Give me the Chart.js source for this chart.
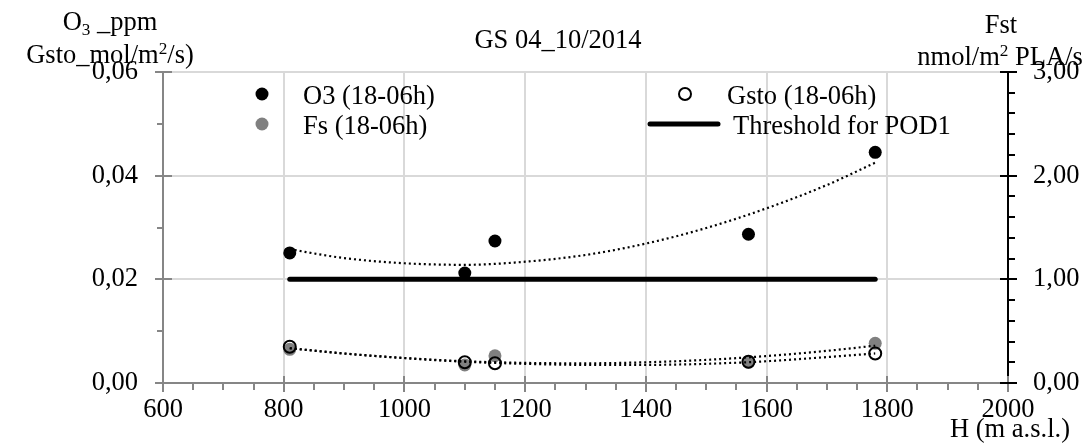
<!DOCTYPE html>
<html>
<head>
<meta charset="utf-8">
<script src="https://cdn.jsdelivr.net/npm/chart.js@4.4.1/dist/chart.umd.min.js"></script>
<style>
  html, body { margin: 0; padding: 0; background: #fff; }
  #wrap { width: 1090px; height: 445px; }
</style>
</head>
<body>
<div id="wrap"><canvas id="chart"></canvas></div>
<script>
// altitude of the stations (m a.s.l.)
const heights = [810, 1100, 1150, 1570, 1780];
// O3 ppm and Gsto on the left axis, Fst on the right axis
const o3 = [0.0251, 0.0212, 0.0274, 0.0287, 0.0445];
const gsto = [0.0070, 0.0040, 0.0038, 0.0041, 0.0057];
const fs = [0.325, 0.174, 0.263, 0.200, 0.383];

// threshold for POD1
const thresholdX = [810, 1780];
const thresholdY = [0.02, 0.02];

// trend lines
const trendX = [810, 900, 1000, 1100, 1200, 1300, 1400, 1500, 1600, 1700, 1780];
const o3Trend = [0.0258, 0.0241, 0.0231, 0.0228, 0.0234, 0.0247, 0.0269, 0.0299, 0.0337, 0.0382, 0.0425];
const gstoTrend = [0.0067, 0.0057, 0.0048, 0.0041, 0.0037, 0.0035, 0.0035, 0.0037, 0.0042, 0.0050, 0.0057];
const fsTrend = [0.335, 0.284, 0.241, 0.210, 0.194, 0.190, 0.200, 0.223, 0.260, 0.310, 0.360];

const xTicks = [600, 800, 1000, 1200, 1400, 1600, 1800, 2000];
const yTicks = [0, 0.02, 0.04, 0.06];
const y1Ticks = [0, 1, 2, 3];

const FONT = "'Liberation Serif', 'Times New Roman', serif";
const FS = 26.5;

const pts = (xs, ys) => xs.map((x, i) => ({ x: x, y: ys[i] }));
const comma = v => v.toFixed(2).replace('.', ',');

// text with sub / superscripts, centred on cx
function rich(ctx, parts, cx, base) {
    let w = 0;
    parts.forEach(p => {
        ctx.font = (p.s ? FS * 0.65 : FS) + 'px ' + FONT;
        p.w = ctx.measureText(p.t).width;
        w += p.w;
    });
    let x = cx - w / 2;
    parts.forEach(p => {
        ctx.font = (p.s ? FS * 0.65 : FS) + 'px ' + FONT;
        let dy = p.s === 'sub' ? FS * 0.2 : (p.s === 'sup' ? -FS * 0.35 : 0);
        ctx.fillText(p.t, x, base + dy);
        x += p.w;
    });
}

const decor = {
    id: 'decor',
    afterDraw(chart) {
        const ctx = chart.ctx;
        const sx = chart.scales.x, sy = chart.scales.y, sy1 = chart.scales.y1;
        ctx.save();

        // tick marks
        ctx.lineWidth = 2;
        ctx.strokeStyle = '#868686';
        for (let v = 600; v <= 2000; v += 50) {
            const px = Math.round(sx.getPixelForValue(v));
            ctx.beginPath();
            if (v % 200 === 0) { ctx.moveTo(px, 376); ctx.lineTo(px, 392); }
            else { ctx.moveTo(px, 383); ctx.lineTo(px, 390); }
            ctx.stroke();
        }
        for (let i = 0; i <= 6; i++) {
            const py = Math.round(sy.getPixelForValue(i * 0.01));
            ctx.beginPath();
            if (i % 2 === 0) { ctx.moveTo(155, py); ctx.lineTo(172, py); }
            else { ctx.moveTo(157, py); ctx.lineTo(163, py); }
            ctx.stroke();
        }
        ctx.strokeStyle = '#000';
        for (let i = 0; i <= 15; i++) {
            const py = Math.round(sy1.getPixelForValue(i * 0.2));
            ctx.beginPath();
            if (i % 5 === 0) { ctx.moveTo(1000, py); ctx.lineTo(1017, py); }
            else { ctx.moveTo(1008, py); ctx.lineTo(1015, py); }
            ctx.stroke();
        }

        // titles
        ctx.fillStyle = '#000';
        ctx.textBaseline = 'alphabetic';
        rich(ctx, [{ t: 'GS 04_10/2014' }], 558, 48);
        rich(ctx, [{ t: 'O' }, { t: '3', s: 'sub' }, { t: ' _ppm' }], 110, 30);
        rich(ctx, [{ t: 'Gsto_mol/m' }, { t: '2', s: 'sup' }, { t: '/s)' }], 110, 63);
        rich(ctx, [{ t: 'Fst' }], 1001, 33);
        rich(ctx, [{ t: 'nmol/m' }, { t: '2', s: 'sup' }, { t: ' PLA/s' }], 1000, 65);
        rich(ctx, [{ t: 'H (m a.s.l.)' }], 1010, 437);

        // legend
        ctx.font = FS + 'px ' + FONT;
        ctx.textAlign = 'left';
        ctx.fillStyle = '#000';
        ctx.beginPath(); ctx.arc(262, 94, 6.5, 0, Math.PI * 2); ctx.fill();
        ctx.fillText('O3 (18-06h)', 303, 104);
        ctx.fillStyle = '#808080';
        ctx.beginPath(); ctx.arc(262, 124, 6.5, 0, Math.PI * 2); ctx.fill();
        ctx.fillStyle = '#000';
        ctx.fillText('Fs (18-06h)', 303, 134);
        ctx.lineWidth = 2;
        ctx.beginPath(); ctx.arc(685, 94, 6, 0, Math.PI * 2); ctx.stroke();
        ctx.fillText('Gsto (18-06h)', 727, 104);
        ctx.lineWidth = 5;
        ctx.lineCap = 'round';
        ctx.beginPath(); ctx.moveTo(650, 124); ctx.lineTo(718, 124); ctx.stroke();
        ctx.fillText('Threshold for POD1', 733, 134);

        ctx.restore();
    }
};

const trendStyle = {
    showLine: true, pointRadius: 0, borderColor: '#000', borderWidth: 2.2,
    borderDash: [2, 3], cubicInterpolationMode: 'monotone', order: 0
};

new Chart(document.getElementById('chart'), {
    type: 'scatter',
    data: {
        datasets: [
            Object.assign({ label: 'O3 trend', data: pts(trendX, o3Trend), yAxisID: 'y' }, trendStyle),
            Object.assign({ label: 'Gsto trend', data: pts(trendX, gstoTrend), yAxisID: 'y' }, trendStyle),
            Object.assign({ label: 'Fs trend', data: pts(trendX, fsTrend), yAxisID: 'y1' }, trendStyle),
            {
                label: 'Gsto (18-06h)', data: pts(heights, gsto), yAxisID: 'y',
                pointRadius: 6, backgroundColor: 'rgba(0,0,0,0)', borderColor: '#000', borderWidth: 2, order: 1
            },
            {
                label: 'O3 (18-06h)', data: pts(heights, o3), yAxisID: 'y',
                pointRadius: 6.5, backgroundColor: '#000', borderColor: '#000', borderWidth: 0, order: 2
            },
            {
                label: 'Fs (18-06h)', data: pts(heights, fs), yAxisID: 'y1',
                pointRadius: 6.5, backgroundColor: '#808080', borderColor: '#808080', borderWidth: 0, order: 2
            },
            {
                label: 'Threshold for POD1', data: pts(thresholdX, thresholdY), yAxisID: 'y',
                showLine: true, pointRadius: 0, borderColor: '#000', borderWidth: 5, borderCapStyle: 'round', order: 3
            }
        ]
    },
    options: {
        responsive: true,
        maintainAspectRatio: false,
        animation: false,
        events: [],
        layout: { padding: { top: 72, left: 0, right: 0, bottom: 0 } },
        plugins: { legend: { display: false }, tooltip: { enabled: false } },
        scales: {
            x: {
                type: 'linear', min: 600, max: 2000,
                afterBuildTicks: s => { s.ticks = xTicks.map(v => ({ value: v })); },
                afterFit: s => { s.height = 62; },
                grid: { color: '#d9d9d9', lineWidth: 2, drawTicks: false },
                border: { color: '#868686', width: 2 },
                ticks: { color: '#000', font: { family: FONT, size: FS }, padding: 11, maxRotation: 0, callback: v => String(v) }
            },
            y: {
                position: 'left', min: 0, max: 0.06,
                afterBuildTicks: s => { s.ticks = yTicks.map(v => ({ value: v })); },
                afterFit: s => { s.width = 163; },
                grid: { color: '#d9d9d9', lineWidth: 2, drawTicks: false },
                border: { color: '#868686', width: 2 },
                ticks: { color: '#000', font: { family: FONT, size: FS }, padding: 25, callback: v => comma(v) }
            },
            y1: {
                position: 'right', min: 0, max: 3,
                afterBuildTicks: s => { s.ticks = y1Ticks.map(v => ({ value: v })); },
                afterFit: s => { s.width = 82; },
                grid: { display: false, drawTicks: false },
                border: { color: '#000', width: 2 },
                ticks: { color: '#000', font: { family: FONT, size: FS }, padding: 25, callback: v => comma(v) }
            }
        }
    },
    plugins: [decor]
});
</script>
</body>
</html>
